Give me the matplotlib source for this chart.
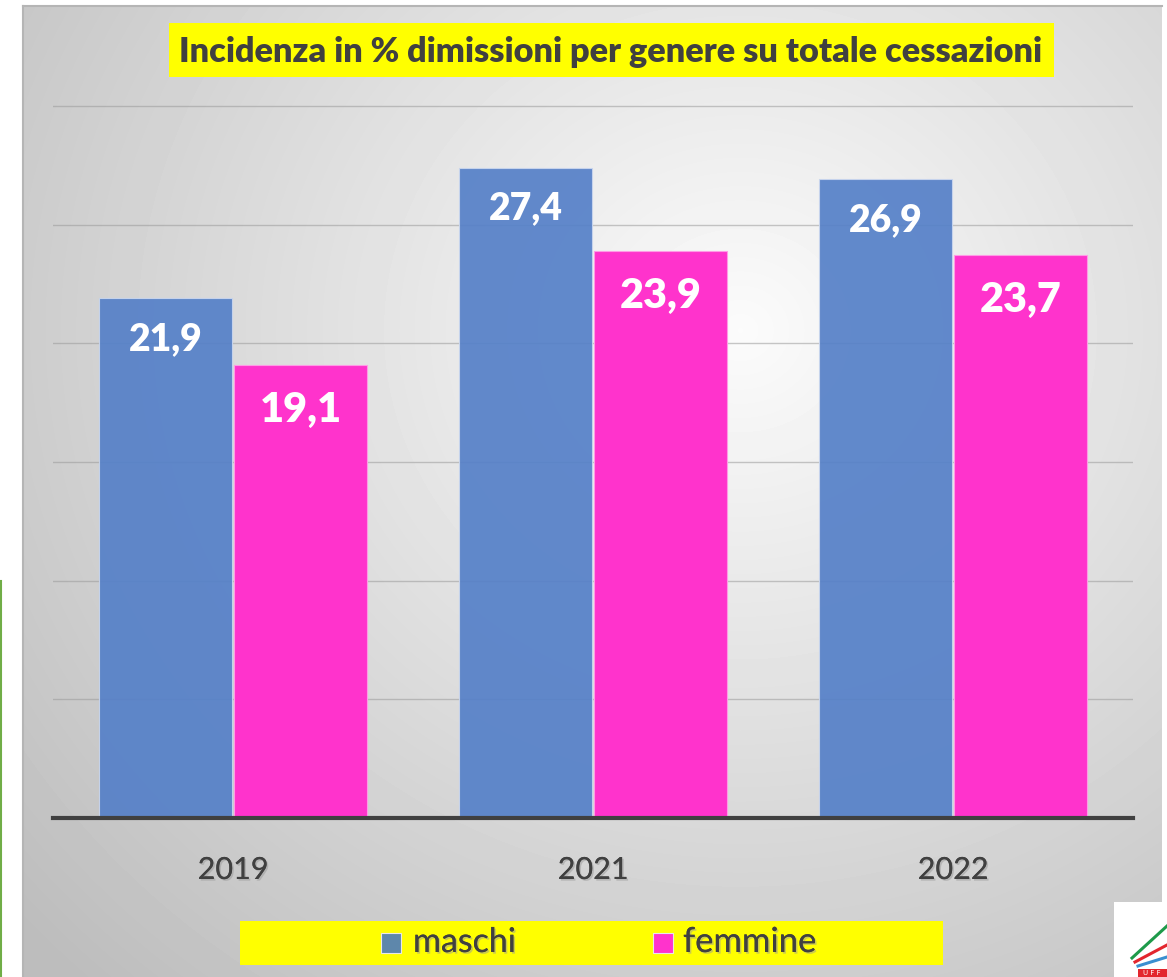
import matplotlib
matplotlib.use("Agg")
import matplotlib.pyplot as plt
import numpy as np
from matplotlib.patches import Rectangle
import matplotlib.patheffects as pe

# ---------------- data ----------------
years = ["2019", "2021", "2022"]
maschi = [21.9, 27.4, 26.9]
femmine = [19.1, 23.9, 23.7]
series_names = ["maschi", "femmine"]
title = "Incidenza in % dimissioni per genere su totale cessazioni"

W, H = 1167, 977
fig = plt.figure(figsize=(W / 100, H / 100), dpi=100)
fig.patch.set_facecolor("white")

def fx(px):
    return px / W

def fy(py):
    return 1 - py / H

renderer = fig.canvas.get_renderer()

def fit(txt, target_w):
    bb = txt.get_window_extent(renderer=renderer)
    txt.set_fontsize(txt.get_fontsize() * target_w / bb.width)

FONT = ["Lato", "DejaVu Sans"]
DARK = "#404040"
BOLD = "heavy"

# ---------------- background gradient panel ----------------
x0p, x1p, y0p, y1p = 23, 1162, 6, 977
bg = fig.add_axes([fx(x0p), fy(y1p), fx(x1p) - fx(x0p), fy(y0p) - fy(y1p)], zorder=-10)
yy, xx = np.mgrid[y0p:y1p, x0p:x1p]
d = np.sqrt(((xx - 740) / 650.0) ** 2 + ((yy - 330) / 600.0) ** 2)
v = np.clip(0.985 - 0.165 * d, 0.74, 1.0)
bg.imshow(v, cmap="gray", vmin=0, vmax=1, aspect="auto", interpolation="bilinear")
bg.set_axis_off()
fig.add_artist(plt.Line2D([fx(x0p), fx(x1p)], [fy(y0p), fy(y0p)], color="#b5b5b5", lw=1.5))
fig.add_artist(plt.Line2D([fx(x0p), fx(x0p)], [fy(y0p), fy(y1p)], color="#b5b5b5", lw=1.5))

# green line on the left
fig.add_artist(plt.Line2D([fx(1), fx(1)], [fy(581), fy(977)], color="#70ad47", lw=1.5))

# ---------------- main axes ----------------
ymax = 32
base_px = 818
unit_px = 23.74
top_px = base_px - ymax * unit_px
ax = fig.add_axes([fx(53), fy(base_px), fx(1133) - fx(53), (base_px - top_px) / H])
ax.set_facecolor("none")
ax.set_xlim(-0.5, 2.5)
ax.set_ylim(0, ymax)
for s in ax.spines.values():
    s.set_visible(False)
ax.set_yticks([5, 10, 15, 20, 25, 30])
ax.set_yticklabels([])
ax.tick_params(axis="both", length=0)
ax.yaxis.grid(True, color="#9a9a9a", lw=1.0, alpha=0.55, zorder=0)
ax.set_axisbelow(True)
ax.set_xticks([])

x = np.arange(len(years))
bw = 0.372
off = 0.1875
ax.bar(x - off, maschi, bw, color="#5580C8", alpha=0.92, edgecolor="#c9d6ee",
       linewidth=0.8, zorder=2, label=series_names[0])
ax.bar(x + off, femmine, bw, color="#FF33CC", edgecolor="#ff9be6",
       linewidth=0.8, zorder=2, label=series_names[1])
ax.axhline(0, color=DARK, lw=3, zorder=4, clip_on=False)

# value labels
for xi, v_ in zip(x - off, maschi):
    t = ax.text(xi, v_ - 52 / unit_px, f"{v_:.1f}".replace(".", ","), ha="center",
                va="baseline", color="white", fontweight=BOLD, family=FONT,
                fontsize=30, zorder=5)
    fit(t, 74)
for xi, v_ in zip(x + off, femmine):
    t = ax.text(xi, v_ - 57 / unit_px, f"{v_:.1f}".replace(".", ","), ha="center",
                va="baseline", color="white", fontweight=BOLD, family=FONT,
                fontsize=30, zorder=5)
    fit(t, 82)

# category labels
shadow = [pe.withSimplePatchShadow(offset=(1.2, -1.2), shadow_rgbFace="#999999", alpha=0.5),
          pe.Normal()]
for xi, lab in zip(x, years):
    t = ax.text(xi, -(879 - base_px) / unit_px, lab, ha="center", va="baseline",
                color=DARK, family=FONT, fontsize=26, zorder=5, path_effects=shadow)
    fit(t, 71)

# ---------------- title ----------------
fig.add_artist(Rectangle((fx(169), fy(77)), fx(1054) - fx(169), fy(23) - fy(77),
                         transform=fig.transFigure, facecolor="#ffff00", edgecolor="none"))
tt = fig.text(fx(611), fy(62), title, ha="center", va="baseline", color=DARK,
              fontweight=BOLD, family=FONT, fontsize=24)
fit(tt, 866)

# ---------------- legend ----------------
fig.add_artist(Rectangle((fx(240), fy(965)), fx(943) - fx(240), fy(921) - fy(965),
                         transform=fig.transFigure, facecolor="#ffff00", edgecolor="none"))
leg_colors = ["#5E87AB", "#FF33CC"]
sw_x = [381, 653]
txt_x = [413, 683]
txt_w = [103, 133]
for c, sx, tx, tw, name in zip(leg_colors, sw_x, txt_x, txt_w, series_names):
    fig.add_artist(Rectangle((fx(sx), fy(953)), fx(sx + 20) - fx(sx), fy(933) - fy(953),
                             transform=fig.transFigure, facecolor=c, edgecolor="#e8e8e8", lw=0.8))
    t = fig.text(fx(tx), fy(952), name, ha="left", va="baseline", color=DARK,
                 family=FONT, fontsize=24, path_effects=shadow)
    fit(t, tw)

# ---------------- logo corner ----------------
fig.add_artist(Rectangle((fx(1114), fy(977)), fx(1167) - fx(1114), fy(902) - fy(977),
                         transform=fig.transFigure, facecolor="white", edgecolor="none"))
fig.add_artist(plt.Line2D([fx(1132), fx(1167)], [fy(958), fy(926)], color="#1e9a4a", lw=2.2))
fig.add_artist(plt.Line2D([fx(1135), fx(1167)], [fy(962), fy(945)], color="#e3262e", lw=2.2))
fig.add_artist(plt.Line2D([fx(1138), fx(1167)], [fy(966), fy(957)], color="#3a8fd0", lw=2.2))
fig.add_artist(Rectangle((fx(1138), fy(977)), fx(1167) - fx(1138), fy(969) - fy(977),
                         transform=fig.transFigure, facecolor="#e3262e", edgecolor="none"))
fig.text(fx(1152), fy(973), "U F F", ha="center", va="center", color="white", fontsize=5,
         family="DejaVu Sans")

fig.savefig("out.png", dpi=100)
